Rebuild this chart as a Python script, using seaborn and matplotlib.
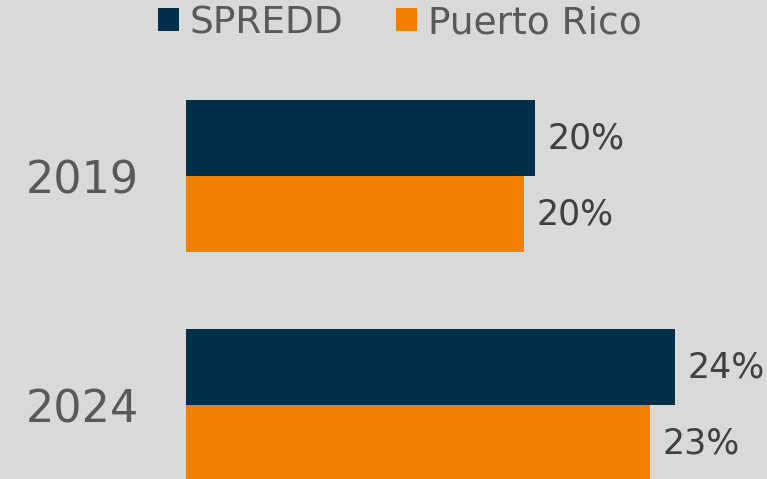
import matplotlib
matplotlib.use("Agg")
import matplotlib.pyplot as plt
import seaborn as sns
import pandas as pd

# Values (share, fraction of 1)
years = ["2019", "2024"]
spredd = [0.200, 0.240]
puerto_rico = [0.197, 0.233]
series_names = ["SPREDD", "Puerto Rico"]
colors = ["#002f4a", "#f57f00"]

df = pd.DataFrame({
    "year": years * 2,
    "value": spredd + puerto_rico,
    "series": [series_names[0]] * 2 + [series_names[1]] * 2,
})

sns.set_theme(style="white")
plt.rcParams["font.family"] = ["DejaVu Sans"]
bg = "#d9d9d9"

fig = plt.figure(figsize=(7.67, 4.79), dpi=100, facecolor=bg)
ax = fig.add_axes([186 / 767, 0, 1 - 186 / 767, 1])
ax.set_facecolor(bg)

sns.barplot(data=df, y="year", x="value", hue="series", order=years,
            hue_order=series_names, palette=colors, orient="h",
            width=0.664, saturation=1, linewidth=0, ax=ax)

# data labels
for cont in ax.containers:
    vals = cont.datavalues
    ax.bar_label(cont, labels=[f"{v:.0%}" for v in vals], padding=9,
                 fontsize=25, color="#404040")

ax.set_xlim(0.10, 0.2665)
ax.set_ylim(1.323, -0.769)
ax.set_xlabel("")
ax.set_ylabel("")
ax.set_xticks([])
for s in ax.spines.values():
    s.set_visible(False)
ax.tick_params(axis="y", length=0, pad=34, labelsize=32, labelcolor="#595959")

handles, labels = ax.get_legend_handles_labels()
ax.get_legend().remove()
fig.legend(handles, labels, loc="center", bbox_to_anchor=(400 / 767, 1 - 23 / 479),
           ncol=2, frameon=False, fontsize=27, labelcolor="#595959",
           handlelength=0.56, handleheight=0.56, handletextpad=0.3,
           columnspacing=1.4, borderaxespad=0)

fig.savefig("out.png", dpi=100, facecolor=bg)
